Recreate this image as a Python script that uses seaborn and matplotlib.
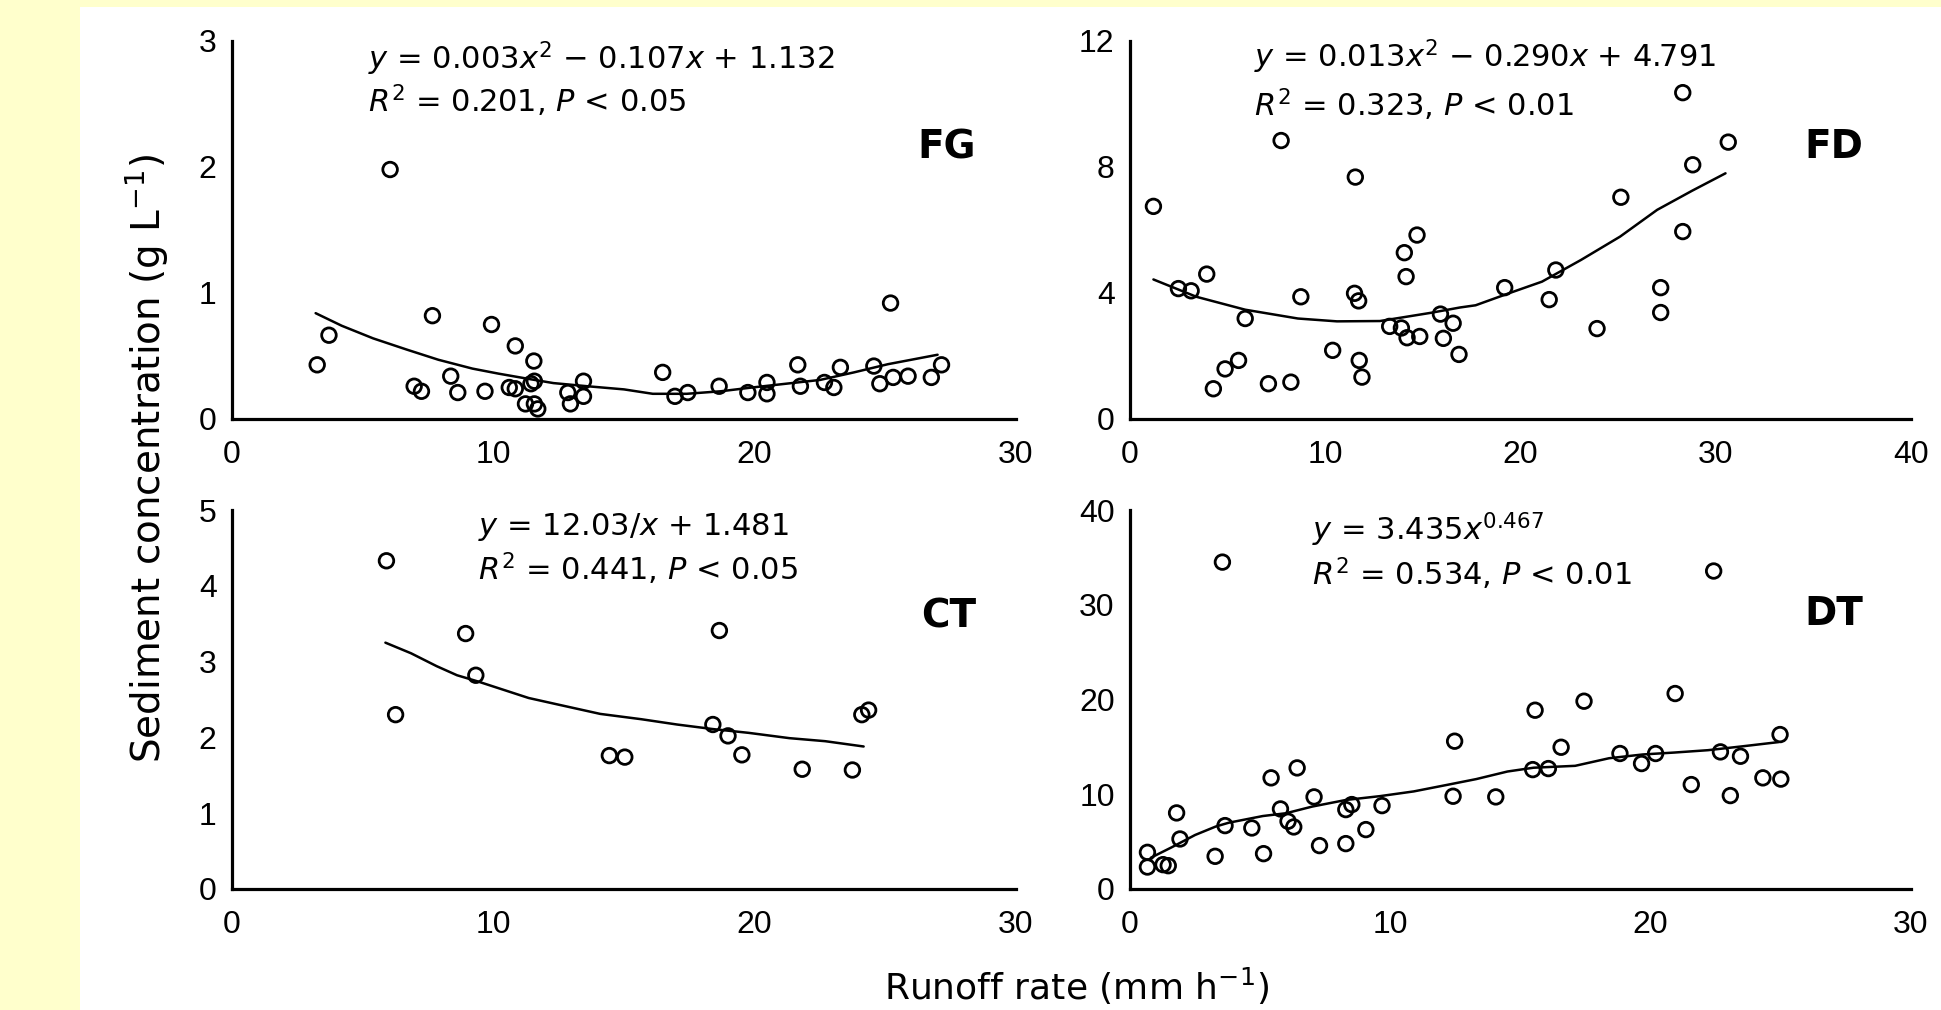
import matplotlib
matplotlib.use("Agg")
import matplotlib.pyplot as plt
from matplotlib.patches import Rectangle
import seaborn as sns

# ---- data ----
fg_x = [3.26, 3.71, 6.05, 6.97, 7.25, 7.67, 8.37, 8.64, 9.68, 9.93, 10.84, 10.61, 10.84, 11.55,
        11.44, 11.57, 11.23, 11.57, 11.7, 12.85, 12.95, 13.45, 13.45, 16.48, 16.95, 17.44, 18.64,
        19.74, 20.47, 20.47, 21.65, 21.75, 22.67, 23.03, 23.28, 24.56, 24.79, 25.2, 25.3, 25.87,
        26.76, 27.15]
fg_y = [0.43, 0.665, 1.98, 0.26, 0.22, 0.82, 0.34, 0.21, 0.22, 0.75, 0.58, 0.25, 0.24, 0.46,
        0.28, 0.30, 0.12, 0.12, 0.08, 0.21, 0.12, 0.30, 0.18, 0.37, 0.18, 0.21, 0.26,
        0.21, 0.29, 0.20, 0.43, 0.26, 0.29, 0.25, 0.41, 0.42, 0.28, 0.92, 0.33, 0.34,
        0.33, 0.43]
fg_fit_x = [3.2, 4.2, 5.4, 6.7, 7.9, 9.2, 10.2, 11.3, 12.3, 13.6, 15.0, 16.1, 17.4, 18.7, 19.9,
            21.2, 22.5, 23.8, 25.1, 27.0]
fg_fit_y = [0.84, 0.74, 0.64, 0.55, 0.47, 0.40, 0.36, 0.32, 0.285, 0.26, 0.235, 0.20, 0.20, 0.22,
            0.25, 0.28, 0.31, 0.37, 0.435, 0.51]

fd_x = [1.2, 2.48, 3.13, 3.93, 4.27, 4.87, 5.56, 5.9, 7.09, 7.74, 8.24, 8.75, 10.38, 11.5, 11.54,
        11.71, 11.74, 11.88, 13.3, 13.9, 14.05, 14.14, 14.19, 14.7, 14.84, 15.9, 16.05, 16.55,
        16.85, 19.19, 21.47, 21.81, 23.92, 25.14, 27.18, 27.18, 28.31, 28.31, 28.82, 30.64]
fd_y = [6.75, 4.14, 4.07, 4.60, 0.96, 1.59, 1.86, 3.19, 1.12, 8.84, 1.17, 3.88, 2.18, 3.99, 7.68,
        3.75, 1.86, 1.33, 2.94, 2.89, 5.28, 4.52, 2.58, 5.84, 2.62, 3.33, 2.56, 3.04,
        2.05, 4.17, 3.79, 4.73, 2.87, 7.04, 4.17, 3.38, 5.95, 10.36, 8.07, 8.79]
fd_fit_x = [1.2, 3.4, 5.9, 8.6, 10.6, 12.8, 15.4, 16.9, 17.7, 19.4, 21.1, 23.1, 25.1, 27.0, 28.8, 30.5]
fd_fit_y = [4.43, 3.88, 3.47, 3.19, 3.10, 3.11, 3.37, 3.54, 3.61, 3.99, 4.36, 5.05, 5.79, 6.64, 7.25, 7.8]

ct_x = [5.91, 6.26, 8.94, 9.33, 14.44, 15.03, 18.4, 18.65, 18.98, 19.51, 21.82, 23.74, 24.1, 24.36]
ct_y = [4.33, 2.30, 3.37, 2.82, 1.76, 1.74, 2.17, 3.41, 2.02, 1.77, 1.58, 1.57, 2.30, 2.36]
ct_fit_x = [5.87, 6.85, 7.83, 8.61, 9.39, 10.37, 11.35, 12.52, 14.09, 15.66, 17.03, 18.4, 19.77,
            21.33, 22.7, 24.17]
ct_fit_y = [3.25, 3.11, 2.94, 2.82, 2.74, 2.63, 2.52, 2.43, 2.31, 2.24, 2.17, 2.11, 2.06, 1.99,
            1.95, 1.88]

dt_x = [0.67, 0.67, 1.27, 1.47, 1.79, 1.92, 3.27, 3.55, 3.65, 4.68, 5.13, 5.42, 5.78, 6.07, 6.29,
        6.42, 7.07, 7.28, 8.29, 8.29, 8.52, 9.06, 9.68, 12.41, 12.47, 14.05, 15.47, 15.56, 16.07,
        16.56, 17.44, 18.82, 19.65, 20.19, 20.94, 21.56, 22.42, 22.68, 23.06, 23.45, 24.31, 24.97,
        25.0]
dt_y = [3.87, 2.32, 2.57, 2.46, 8.03, 5.28, 3.45, 34.5, 6.69, 6.44, 3.73, 11.73, 8.45, 7.15, 6.55,
        12.78, 9.72, 4.58, 8.38, 4.79, 8.91, 6.27, 8.80, 9.79, 15.6, 9.72, 12.6, 18.87, 12.71,
        14.96, 19.82, 14.3, 13.24, 14.3, 20.63, 11.02, 33.56, 14.47, 9.86, 14.01, 11.73, 16.3,
        11.6]
dt_fit_x = [0.8, 1.6, 2.5, 3.3, 3.8, 5.1, 6.0, 7.0, 8.3, 9.6, 10.9, 12.2, 13.3, 14.5, 15.5, 17.1,
            18.4, 19.7, 20.9, 22.2, 23.5, 24.9]
dt_fit_y = [3.3, 4.4, 5.7, 6.6, 7.0, 7.7, 8.0, 8.7, 9.4, 9.8, 10.3, 11.0, 11.6, 12.4, 12.8, 13.0,
            13.8, 14.2, 14.4, 14.65, 15.05, 15.5]

panels = [
    dict(name="FG", x=fg_x, y=fg_y, fx=fg_fit_x, fy=fg_fit_y, xmax=30, xt=[0, 10, 20, 30],
         ymax=3, yt=[0, 1, 2, 3],
         eq1="$y$ = 0.003$x^2$ − 0.107$x$ + 1.132", eq2="$R^2$ = 0.201, $P$ < 0.05"),
    dict(name="FD", x=fd_x, y=fd_y, fx=fd_fit_x, fy=fd_fit_y, xmax=40, xt=[0, 10, 20, 30, 40],
         ymax=12, yt=[0, 4, 8, 12],
         eq1="$y$ = 0.013$x^2$ − 0.290$x$ + 4.791", eq2="$R^2$ = 0.323, $P$ < 0.01"),
    dict(name="CT", x=ct_x, y=ct_y, fx=ct_fit_x, fy=ct_fit_y, xmax=30, xt=[0, 10, 20, 30],
         ymax=5, yt=[0, 1, 2, 3, 4, 5],
         eq1="$y$ = 12.03/$x$ + 1.481", eq2="$R^2$ = 0.441, $P$ < 0.05"),
    dict(name="DT", x=dt_x, y=dt_y, fx=dt_fit_x, fy=dt_fit_y, xmax=30, xt=[0, 10, 20, 30],
         ymax=40, yt=[0, 10, 20, 30, 40],
         eq1="$y$ = 3.435$x^{0.467}$", eq2="$R^2$ = 0.534, $P$ < 0.01"),
]

sns.set_style("white")
plt.rcParams['font.family'] = ['DejaVu Sans']
plt.rcParams['mathtext.fontset'] = 'dejavusans'
plt.rcParams['text.color'] = 'black'
plt.rcParams['xtick.color'] = 'black'
plt.rcParams['ytick.color'] = 'black'

W, H = 1941, 1010
fig = plt.figure(figsize=(W / 100, H / 100), dpi=100)
fig.patch.set_facecolor('#FFFFCC')
fig.add_artist(Rectangle((80 / W, 0), 1 - 80 / W, 1 - 7 / H, transform=fig.transFigure,
                         facecolor='white', edgecolor='none', zorder=-5))

# axes boxes in pixels: left, right, top, bottom
boxes = [(232, 1016, 41, 419), (1130, 1911, 41, 419),
         (232, 1016, 510, 889), (1130, 1911, 510, 889)]
# equation placement (axes fraction): left x, baseline line1, baseline line2
eq_pos = [(0.173, 0.926, 0.812), (0.159, 0.929, 0.800),
          (0.314, 0.934, 0.815), (0.233, 0.921, 0.800)]
lab_pos = [(0.949, 0.69), (0.9385, 0.69), (0.949, 0.691), (0.9385, 0.697)]

for p, (l, r, t, b), ep, lp in zip(panels, boxes, eq_pos, lab_pos):
    ax = fig.add_axes([l / W, 1 - b / H, (r - l) / W, (b - t) / H])
    sns.lineplot(x=p["fx"], y=p["fy"], ax=ax, color='black', lw=1.8, sort=False,
                 estimator=None, zorder=2)
    sns.scatterplot(x=p["x"], y=p["y"], ax=ax, marker='o', s=110, facecolors='none',
                    edgecolor='black', linewidth=2.0, zorder=3)
    ax.set_xlim(0, p["xmax"])
    ax.set_ylim(0, p["ymax"])
    ax.set_xticks(p["xt"])
    ax.set_yticks(p["yt"])
    for s in ['top', 'right']:
        ax.spines[s].set_visible(False)
    for s in ['left', 'bottom']:
        ax.spines[s].set_linewidth(2.3)
        ax.spines[s].set_color('black')
    ax.tick_params(direction='in', length=7, width=1.8, color='black', labelcolor='black',
                   labelsize=23)
    ax.tick_params(axis='y', pad=11)
    ax.tick_params(axis='x', pad=15)
    for lbl in ax.get_xticklabels() + ax.get_yticklabels():
        lbl.set_fontfamily('Liberation Sans')
    ax.set_xlabel('')
    ax.set_ylabel('')
    ax.text(ep[0], ep[1], p["eq1"], transform=ax.transAxes, fontsize=22, va='baseline', ha='left')
    ax.text(ep[0], ep[2], p["eq2"], transform=ax.transAxes, fontsize=22, va='baseline', ha='left')
    ax.text(lp[0], lp[1], p["name"], transform=ax.transAxes, fontsize=28, fontweight='bold',
            va='baseline', ha='right')

fig.text(147 / W, 1 - 459 / H, 'Sediment concentration (g L$^{-1}$)', rotation=90,
         ha='center', va='center', fontsize=28)
fig.text(1077 / W, 1 - 986 / H, 'Runoff rate (mm h$^{-1}$)', ha='center', va='center',
         fontsize=26)

fig.savefig('out.png', dpi=100, facecolor=fig.get_facecolor())
